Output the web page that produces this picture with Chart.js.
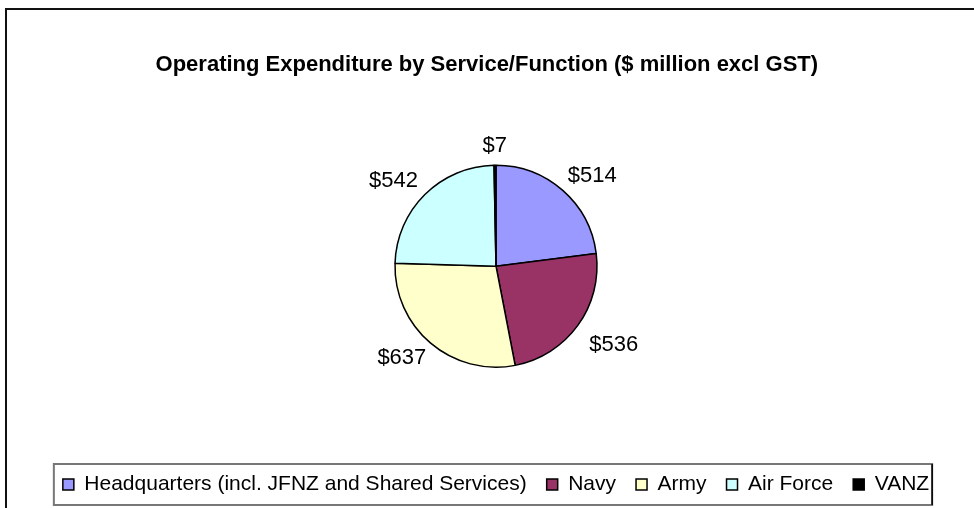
<!DOCTYPE html>
<html>
<head>
<meta charset="utf-8">
<script src="https://cdn.jsdelivr.net/npm/chart.js@4/dist/chart.umd.min.js"></script>
<style>
  html, body { margin: 0; padding: 0; background: #fff; }
  canvas { display: block; }
</style>
</head>
<body>
<canvas id="chart" width="974" height="508"></canvas>
<script>
const categories = ['Headquarters (incl. JFNZ and Shared Services)', 'Navy', 'Army', 'Air Force', 'VANZ'];
const amounts = [514, 536, 637, 542, 7];
const sliceColors = ['#9999FF', '#993366', '#FFFFCC', '#CCFFFF', '#000000'];
const titleText = 'Operating Expenditure by Service/Function ($ million excl GST)';

const FONT = '"Liberation Sans", Arial, sans-serif';

// value labels just outside each slice
const sliceLabels = {
    id: 'sliceLabels',
    afterDatasetsDraw(chart) {
        const ctx = chart.ctx;
        const meta = chart.getDatasetMeta(0);
        ctx.save();
        ctx.font = '22px ' + FONT;
        ctx.fillStyle = '#000';
        ctx.textAlign = 'center';
        ctx.textBaseline = 'middle';
        meta.data.forEach((arc, i) => {
            const p = arc.getProps(['x', 'y', 'startAngle', 'endAngle', 'outerRadius'], true);
            const mid = (p.startAngle + p.endAngle) / 2;
            const ux = Math.cos(mid), uy = Math.sin(mid);
            const text = '$' + amounts[i];
            const w = ctx.measureText(text).width;
            const x = p.x + ux * (p.outerRadius + 20 + w / 2);
            // lower right labels sit a bit lower, as in the original
            const drop = Math.max(0, ux) * Math.max(0, uy) * 18;
            const y = p.y + uy * (p.outerRadius + 8 + 11) + drop;
            ctx.fillText(text, x, y);
        });
        ctx.restore();
    }
};

// frame around the whole chart and around the legend
const frames = {
    id: 'frames',
    afterDraw(chart) {
        const ctx = chart.ctx;
        const boxes = chart.legend.legendHitBoxes;
        let left = Infinity, right = -Infinity, top = Infinity, bottom = -Infinity;
        boxes.forEach(b => {
            left = Math.min(left, b.left);
            right = Math.max(right, b.left + b.width);
            top = Math.min(top, b.top);
            bottom = Math.max(bottom, b.top + b.height);
        });
        ctx.save();
        ctx.strokeStyle = '#777';
        ctx.lineWidth = 2;
        ctx.strokeRect(left - 9, top - 10, right - left + 12, bottom - top + 20);
        ctx.strokeStyle = '#000';
        ctx.lineWidth = 1.5;
        ctx.beginPath();
        ctx.moveTo(right + 3, top - 10);
        ctx.lineTo(right + 3, bottom + 10);
        ctx.stroke();

        ctx.strokeStyle = '#111';
        ctx.lineWidth = 2;
        ctx.beginPath();
        ctx.moveTo(6, 508);
        ctx.lineTo(6, 9);
        ctx.lineTo(974, 9);
        ctx.stroke();
        ctx.restore();
    }
};

new Chart(document.getElementById('chart'), {
    type: 'pie',
    data: {
        labels: categories,
        datasets: [{
            data: amounts,
            backgroundColor: sliceColors,
            borderColor: '#000',
            borderWidth: 1.5,
            radius: 101
        }]
    },
    options: {
        responsive: false,
        animation: false,
        layout: {
            padding: {left: 18, right: 0, top: 0, bottom: 3}
        },
        plugins: {
            title: {
                display: true,
                text: titleText + '   ',
                color: '#000',
                font: {family: FONT, size: 22, weight: 'bold'},
                padding: {top: 52, bottom: 0}
            },
            legend: {
                position: 'bottom',
                labels: {
                    color: '#000',
                    font: {family: FONT, size: 21},
                    boxWidth: 11,
                    boxHeight: 11,
                    padding: 20
                }
            },
            tooltip: {enabled: false}
        }
    },
    plugins: [sliceLabels, frames]
});
</script>
</body>
</html>
